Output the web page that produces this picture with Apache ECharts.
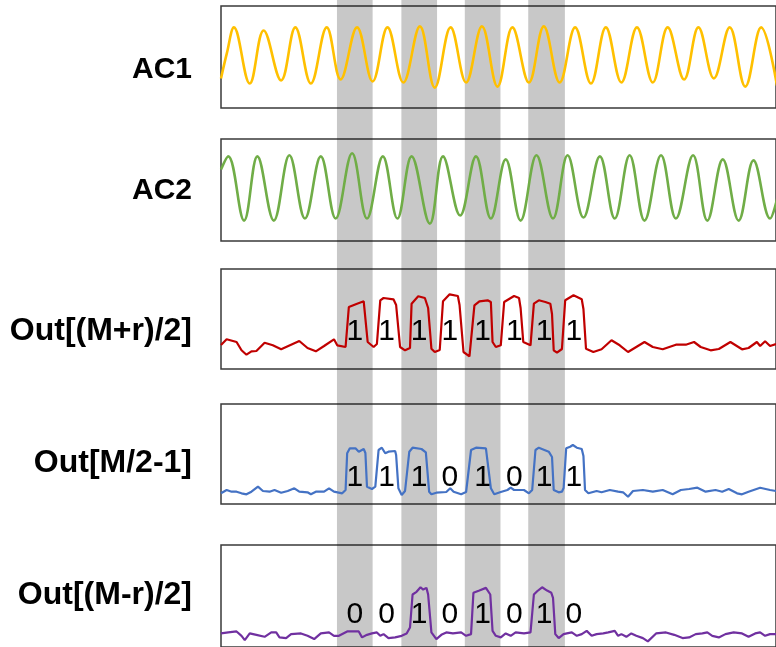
<!DOCTYPE html>
<html><head><meta charset="utf-8">
<script src="https://cdn.jsdelivr.net/npm/echarts@6/dist/echarts.min.js"></script>
<style>html,body{margin:0;padding:0;background:#fff;overflow:hidden}#c{width:776px;height:647px}</style>
</head><body><div id="c"></div>
<script>
// ---------- data (time in sample units, amplitude 0..100 per panel) ----------
const panelNames = ['AC1', 'AC2', 'Out[(M+r)/2]', 'Out[M/2-1]', 'Out[(M-r)/2]'];

const ac1Pts = [[0,29],[6,54],[13,79],[29,24],[43,76],[60.7,27],[75,79],[90.7,24],[106.7,79],[120.7,28],[137.3,79],[153,26],[168,79],[184,25],[200.7,80],[215.7,20],[231.7,79],[247.3,25],[263.3,80],[279,21],[294,79],[310.7,25],[325.7,80],[341.7,25],[357.3,79],[373.3,24],[388.3,79],[404,25],[419.7,79],[435.7,25],[450.7,79],[467.3,28],[481.7,79],[497.3,29],[513.3,79],[529,21],[545,79],[561,22]];

const ac2Pts = [[0,70],[7.3,83],[23.3,20],[36.7,83],[53.3,20],[69,84],[84.7,22],[100.7,83],[115.7,22],[132.3,86],[147.3,22],[163.3,83],[178,22],[192.3,83],[210.7,17],[224,83],[241.3,25],[257.3,83],[272.3,22],[287.3,80],[302.3,20],[318.3,84],[335,22],[349.7,84],[365.7,23],[382.3,83],[397.3,22],[412.3,84],[427.3,20],[444,84],[459,22],[476.3,84],[490.7,20],[506.3,80],[522.3,20],[537.3,79],[554,22],[562,45]];

const outPlusPts = [[0,24],[5.7,29.7],[15.7,27],[20.7,18.7],[25.7,14.3],[30.7,17.7],[35.7,18],[44,26.3],[52.3,23.7],[60.7,19.7],[79,28],[87.3,21],[95.7,17.7],[104,23],[114,29.7],[117.3,23.7],[125.7,22],[129,62],[130.7,63.7],[137.3,65.3],[144,67.7],[146,67],[148,27],[154,22],[157.3,25],[160.7,68.7],[164,71],[174,69.7],[176.7,64],[180.7,22],[185.7,18.7],[190.7,21],[192.3,65.3],[199,72.7],[205.7,71],[209,61],[212.3,20.3],[215.7,17],[220.7,19],[224,67.7],[230.7,74.7],[239,73],[240.7,64],[244.7,17],[250.7,12.7],[255.7,63.7],[260.7,67.7],[269,68.7],[272.3,67],[274,27],[277.3,22],[282.3,23.7],[285.7,67],[295.7,73],[300.7,71],[302.3,61],[305,27],[312.3,23.7],[315.7,65.3],[320.7,68.7],[327.3,67],[332.3,65.3],[334,55],[335.7,18.7],[339,16.3],[344,20],[347.3,68.7],[355.7,73.7],[364,69.7],[365.7,60],[368.3,20.3],[375.7,17],[384,19.7],[394,28.7],[402.3,23.7],[410.7,17],[419,22],[427.3,27],[435.7,22],[445.7,19.7],[459,24.3],[469,24.3],[477.3,27],[484,22],[494,18.7],[502.3,20],[514,27],[525.7,19.7],[532.3,21],[540.7,27],[544,23],[549,27.7],[554,23],[560,25]];

const outMidPts = [[0,10.7],[5.7,14],[10.7,12.3],[15.7,12.3],[20.7,10.7],[25.7,9.7],[30.7,12.3],[37.3,17.3],[42.3,13],[49,12.3],[54,14],[60.7,11.3],[67.3,13],[74,15.7],[79,12.3],[87.3,11.7],[90.7,9.7],[95.7,12.3],[104,12.3],[109,15.7],[114,12.3],[122.3,10.7],[125.7,14],[127.3,50.7],[130,55.7],[135.7,55.7],[139,52.3],[144,55],[145.7,51],[147.3,17.3],[152.3,15],[155.7,17.3],[159,54],[162.3,56.3],[165.7,50.7],[169,52.3],[175.7,53],[176.7,49],[179,15.7],[182.3,9],[185.7,13],[190,52.3],[193.3,56.3],[202.3,55],[206.7,51.7],[210,12.3],[212.3,9.7],[217.3,11.3],[227.3,12],[231.3,15.7],[234.7,12.3],[242.3,9.7],[247.3,12],[252.3,54],[257.3,56.3],[267.3,55.7],[269,54],[272.3,15.7],[275.7,9.7],[282.3,12],[289,14],[292.3,16.3],[295.7,14],[305.7,14],[310.7,10.7],[314,14],[317.3,54],[320.7,56.3],[330.7,52.3],[334,47],[335.7,14],[340.7,11.7],[344,12.3],[345.7,16],[348.3,55.7],[352.3,57.3],[355,59],[359,56.3],[364,55],[365.7,48],[367.3,14],[370.7,10.7],[379,13],[384,11.7],[392.3,14],[400.7,12.3],[405.7,11.7],[410.7,7.3],[415.7,13],[425.7,14],[435.7,12.3],[445.7,14],[455.7,9.7],[464,14],[472.3,15],[480.7,16.3],[489,12.3],[499,14],[505.7,12.3],[512.3,15],[520.7,10.7],[525.7,9.7],[532.3,12.3],[544,16.3],[554,14],[560,13]];

const outMinusPts = [[0,10.7],[7.3,11.7],[15.7,12.7],[20.7,8.3],[24,4],[29,10.7],[35.7,9.3],[44,7.3],[50.7,11.7],[55.7,11.7],[59,6.7],[65.7,6],[70.7,10],[80.7,10.7],[87.3,8.3],[94,5],[100.7,10.7],[109,11.7],[114,8.3],[119,8.3],[127.3,12.7],[139,12.7],[142.3,6.7],[147.3,9.3],[152.3,10.7],[157.3,11.7],[160.7,8.3],[164,10],[169,6],[175.7,6.7],[182.3,8.3],[187.3,10.7],[190.7,16.7],[193.3,50],[197.3,52.7],[201.3,57.3],[204,55],[207.3,56.7],[209,50],[212.3,11.7],[217.3,5],[222.3,9.3],[227.3,11.7],[234,10.7],[242.3,11.7],[247.3,8.3],[252.3,10],[254.7,51.7],[260.7,54],[267.3,56.7],[269,55],[271.7,50],[274,13.3],[277.3,8.3],[282.3,6.7],[287.3,10.7],[292.3,8.3],[297.3,11.7],[305.7,10.7],[312.3,11.7],[315.7,50],[319,53.3],[324,57.3],[329,54],[333.3,51.7],[335,46.7],[337.3,10],[340.7,6],[345.7,10],[349,10.7],[354,11.7],[359,8.3],[364,10],[369,13.3],[374,8.3],[379,10],[385.7,10.7],[390.7,11.7],[397.3,13.3],[400.7,8.3],[404,10],[409,7.3],[414,10.7],[419,8.3],[425.7,6],[430.7,2.7],[439,10.7],[449,11.7],[457.3,9.3],[465.7,6],[472.3,6.7],[479,10],[485.7,10.7],[490.7,11.7],[495.7,8.3],[502.3,6.7],[509,10],[517.3,11.7],[525.7,10.7],[532.3,7.3],[539,10.7],[544,11.7],[549,8.3],[554,10],[560,10]];

// bit slots and decoded bits
const bitCenters = [135, 167, 200, 231, 264, 296, 326, 356];
const bitsPlus  = ['1','1','1','1','1','1','1','1'];
const bitsMid   = ['1','1','1','0','1','0','1','1'];
const bitsMinus = ['0','0','1','0','1','0','1','0'];
const bitLevels = [37, 26.5, 29.5];

// shaded sampling windows
const bandStart = [117, 182, 246, 310];
const bandEnd   = [153, 218, 282, 347];

// ---------- layout / style ----------
const seriesPts = [ac1Pts, ac2Pts, outPlusPts, outMidPts, outMinusPts];
const colors = ['#FFC000', '#70AD47', '#C00000', '#4472C4', '#7030A0'];
const smoothVals = [0.38, 0.38, false, false, false];
const lineWidths = [2.6, 2.6, 2.2, 2.2, 2.2];
const tops = [6, 139, 269, 404, 545];
const heights = [102, 102, 100, 100, 103];
const yMins = [0, 0, 0, 0, -3];
const titleY = [70, 191, 331, 463, 595];
const titleSize = [30, 30, 32, 32, 32];
const LEFT = 221, WIDTH = 560, XMAX = 560;

const grids = [], xAxes = [], yAxes = [], series = [], graphics = [];
for (let i = 0; i < 5; i++) {
  grids.push({left: LEFT, width: WIDTH, top: tops[i], height: heights[i], show: true,
    borderColor: '#3a3a3a', borderWidth: 1.5, backgroundColor: 'transparent', containLabel: false});
  xAxes.push({type: 'value', gridIndex: i, min: 0, max: XMAX, show: false});
  yAxes.push({type: 'value', gridIndex: i, min: yMins[i], max: 100, show: false});
  series.push({type: 'line', xAxisIndex: i, yAxisIndex: i, data: seriesPts[i], showSymbol: false,
    symbol: 'none', smooth: smoothVals[i], lineStyle: {color: colors[i], width: lineWidths[i]},
    silent: true, z: 2});
  graphics.push({type: 'text', x: 192, y: titleY[i], z: 50,
    style: {text: panelNames[i], align: 'right', verticalAlign: 'middle',
      fontSize: titleSize[i], fontWeight: 'bold', fontFamily: '"Liberation Sans", Arial, sans-serif', fill: '#000'}});
}
// bit labels
[bitsPlus, bitsMid, bitsMinus].forEach((bits, k) => {
  const gi = k + 2;
  series.push({type: 'scatter', xAxisIndex: gi, yAxisIndex: gi, symbolSize: 0, silent: true, z: 30,
    itemStyle: {opacity: 1},
    data: bitCenters.map((x, j) => [x, bitLevels[k], bits[j]]),
    label: {show: true, position: 'inside', formatter: p => p.value[2], fontSize: 30, opacity: 1,
      fontFamily: '"Liberation Sans", Arial, sans-serif', color: '#000', textBorderWidth: 0}});
});
// overlay grid for shaded bands
grids.push({left: LEFT, width: WIDTH, top: 0, height: 647, show: false});
xAxes.push({type: 'value', gridIndex: 5, min: 0, max: XMAX, show: false});
yAxes.push({type: 'value', gridIndex: 5, min: 0, max: 1, show: false});
series.push({type: 'line', xAxisIndex: 5, yAxisIndex: 5, data: [[0, 0.5]], symbol: 'none',
  lineStyle: {opacity: 0}, silent: true, z: 10,
  markArea: {silent: true, itemStyle: {color: 'rgba(0,0,0,0.215)'},
    data: bandStart.map((s, j) => [{xAxis: s}, {xAxis: bandEnd[j]}])}});

const chart = echarts.init(document.getElementById('c'));
chart.setOption({animation: false, grid: grids, xAxis: xAxes, yAxis: yAxes, series: series, graphic: graphics});
</script></body></html>
